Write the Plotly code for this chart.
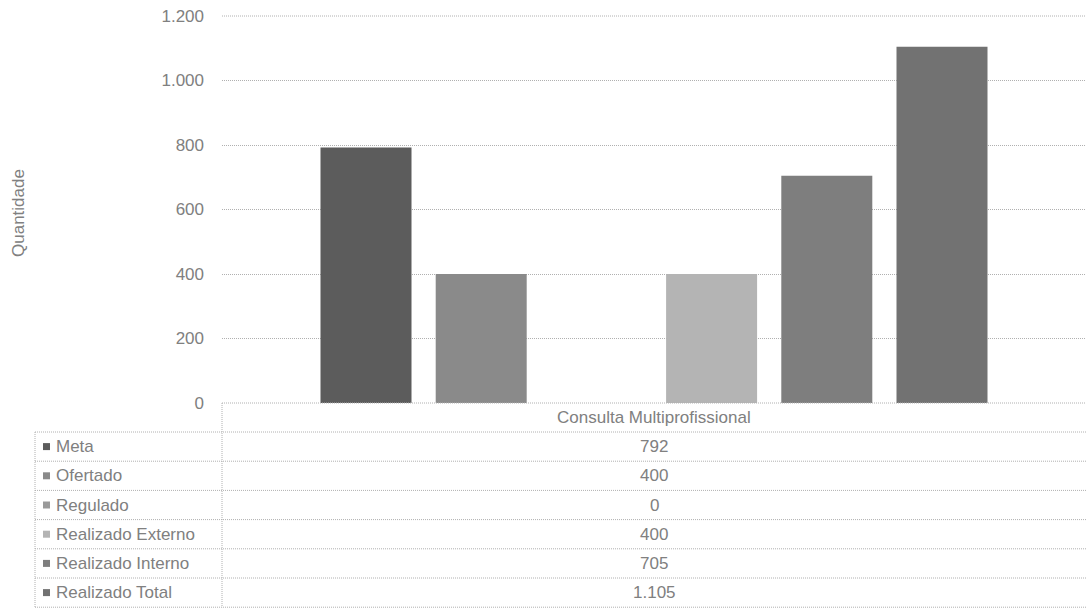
import plotly.graph_objects as go

# Data
category = "Consulta Multiprofissional"
series_names = ["Meta", "Ofertado", "Regulado", "Realizado Externo", "Realizado Interno", "Realizado Total"]
series_values = [792, 400, 0, 400, 705, 1105]
value_labels = ["792", "400", "0", "400", "705", "1.105"]
y_ticks = [0, 200, 400, 600, 800, 1000, 1200]

colors = ["#5c5c5c", "#8a8a8a", "#9a9a9a", "#b4b4b4", "#7e7e7e", "#727272"]

W, H = 1086, 608
PL, PR, PT, PB = 222, 1086, 16, 403  # plot area in pixels
TEXT = "#808080"
LINE = "#b0b0b0"
DOT = "1px,1px"
FONT = "Liberation Sans, Arial, sans-serif"
FS = 17


def px_x(px):
    return (px - PL) / (PR - PL)


def px_y(py):
    return (PB - py) / (PB - PT)


fig = go.Figure()
for name, val, col in zip(series_names, series_values, colors):
    fig.add_trace(go.Bar(
        x=[category], y=[val], name=name,
        marker=dict(color=col, line=dict(width=0)),
        showlegend=False,
    ))

shapes = []
annotations = []


def hline(py, x0, x1, layer="above"):
    shapes.append(dict(type="line", xref="paper", yref="paper", layer=layer,
                       x0=px_x(x0), x1=px_x(x1), y0=px_y(py), y1=px_y(py),
                       line=dict(color=LINE, width=1, dash=DOT)))


def vline(px, y0, y1):
    shapes.append(dict(type="line", xref="paper", yref="paper",
                       x0=px_x(px), x1=px_x(px), y0=px_y(y0), y1=px_y(y1),
                       line=dict(color=LINE, width=1, dash=DOT)))


# gridlines at the ends of the value range
hline(PB, PL, PR)
hline(PT, PL, PR, layer="below")

# Data table below the plot
table_left = 35
header_bottom = 432
row_h = 29.2
n_rows = len(series_names)

annotations.append(dict(
    x=px_x((PL + PR) / 2), y=px_y((PB + header_bottom) / 2), xref="paper", yref="paper",
    text=category, showarrow=False, xanchor="center", yanchor="middle",
    font=dict(family=FONT, size=FS, color=TEXT),
))

hline(header_bottom, table_left, PR)
table_bottom = header_bottom + row_h * n_rows
vline(table_left, header_bottom, table_bottom)
vline(PL, PB, table_bottom)

for i, (name, lab, col) in enumerate(zip(series_names, value_labels, colors)):
    top = header_bottom + row_h * i
    bot = top + row_h
    mid = (top + bot) / 2
    hline(bot, table_left, PR)
    # legend key
    shapes.append(dict(type="rect", xref="paper", yref="paper",
                       x0=px_x(43), x1=px_x(50), y0=px_y(mid - 3.5), y1=px_y(mid + 3.5),
                       fillcolor=col, line=dict(width=0)))
    annotations.append(dict(
        x=px_x(54), y=px_y(mid), xref="paper", yref="paper",
        text=name, showarrow=False, xanchor="left", yanchor="middle",
        font=dict(family=FONT, size=FS, color=TEXT),
    ))
    annotations.append(dict(
        x=px_x((PL + PR) / 2), y=px_y(mid), xref="paper", yref="paper",
        text=lab, showarrow=False, xanchor="center", yanchor="middle",
        font=dict(family=FONT, size=FS, color=TEXT),
    ))

# y-axis title
annotations.append(dict(
    x=px_x(19), y=px_y(213), xref="paper", yref="paper",
    text="Quantidade", showarrow=False, textangle=-90,
    xanchor="center", yanchor="middle",
    font=dict(family=FONT, size=FS, color=TEXT),
))

fig.update_layout(
    width=W, height=H,
    margin=dict(l=PL, r=W - PR, t=PT, b=H - PB, pad=0),
    paper_bgcolor="white", plot_bgcolor="white",
    barmode="group", bargap=0.2, bargroupgap=0.21,
    separators=",.",
    shapes=shapes, annotations=annotations,
    font=dict(family=FONT, color=TEXT),
)
fig.update_xaxes(showticklabels=False, showgrid=False, zeroline=False,
                 showline=False, ticks="")
fig.update_yaxes(range=[0, 1200], tickvals=y_ticks, tickformat=",d",
                 showgrid=True, gridcolor=LINE, gridwidth=1, griddash=DOT,
                 zeroline=False, showline=False, ticks="",
                 ticklabelstandoff=17,
                 tickfont=dict(family=FONT, size=FS, color=TEXT))

fig.write_html("out.html")
